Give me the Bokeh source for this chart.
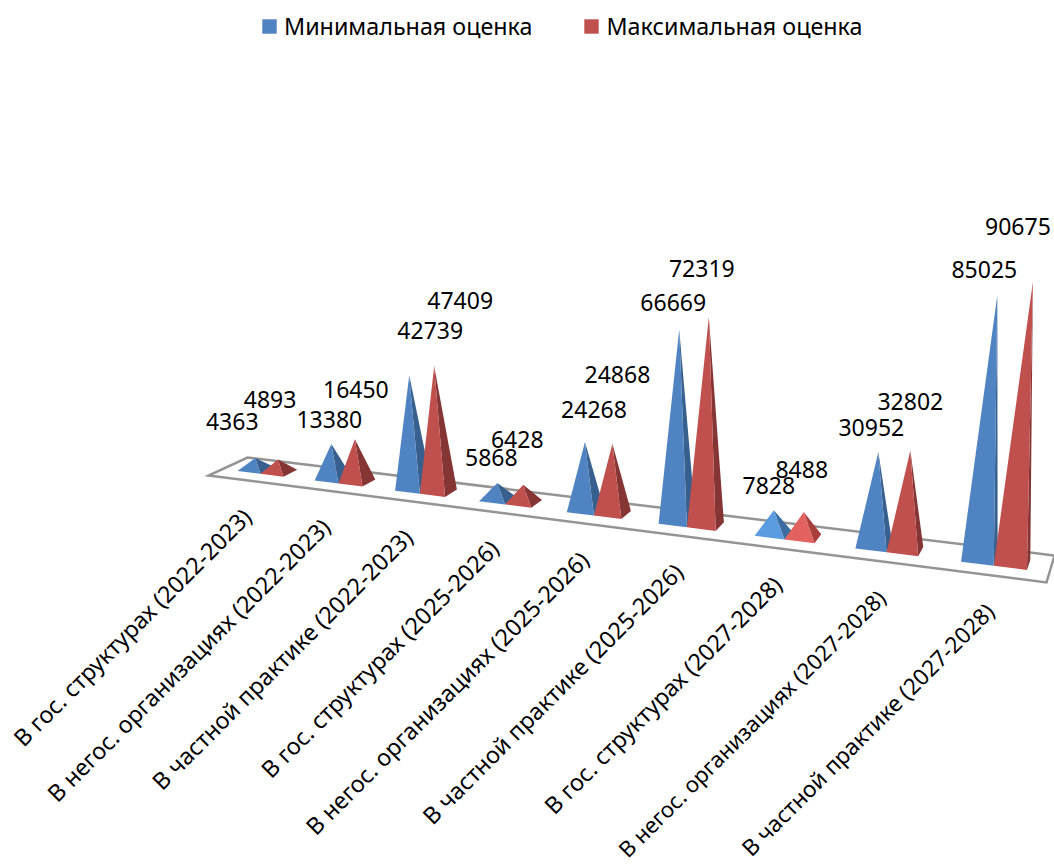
import numpy as np
from bokeh.plotting import figure
from bokeh.models import ColumnDataSource, Legend, LegendItem
from bokeh.core.properties import value
from bokeh.embed import file_html
from bokeh.resources import INLINE

categories = [
    "В гос. структурах (2022-2023)", "В негос. организациях (2022-2023)", "В частной практике (2022-2023)",
    "В гос. структурах (2025-2026)", "В негос. организациях (2025-2026)", "В частной практике (2025-2026)",
    "В гос. структурах (2027-2028)", "В негос. организациях (2027-2028)", "В частной практике (2027-2028)",
]
min_values = [4363, 13380, 42739, 5868, 24268, 66669, 7828, 30952, 85025]
max_values = [4893, 16450, 47409, 6428, 24868, 72319, 8488, 32802, 90675]
series_names = ["Минимальная оценка", "Максимальная оценка"]

# manual data-label offsets from each pyramid's apex (layout, px)
min_label_dx = [-23, -2, 21, -6, 9, -6, -5, -7, -13]
min_label_dy = [-37, -25, -45, -25, -32, -27, -25, -25, -26]
max_label_dx = [-8, 1, 26, -6, 5, -7, -2, 0, -15]
max_label_dy = [-60, -50, -65, -45, -69, -48, -42, -49, -55]
category_sizes = ["23.3px"] * 7 + ["22px", "22.6px"]

FONT = "Noto Sans"
LABEL_SIZE = "23px"
FLOOR = [(208, 475), (1046, 582), (1054, 555), (247, 457)]
N = len(categories)


def homography(corners, n):
    src = [(0, 0), (n, 0), (n, 1), (0, 1)]
    A, b = [], []
    for (u, w), (x, y) in zip(src, corners):
        A.append([u, w, 1, 0, 0, 0, -u * x, -w * x]); b.append(x)
        A.append([0, 0, 0, u, w, 1, -u * y, -w * y]); b.append(y)
    return np.append(np.linalg.solve(np.array(A, float), np.array(b, float)), 1).reshape(3, 3)


H = homography(FLOOR, N)


def floor(u, w):
    q = H @ np.array([u, w, 1.0])
    return q[0] / q[2], q[1] / q[2]


W0, W1 = 0.35, 0.72
VANISH_X = 620
LEAN = 1.89e-4


def pyramid(c, u0, u1, v):
    fl, fr = floor(c + u0, W0), floor(c + u1, W0)
    br = floor(c + u1, W1)
    cx, cy = floor(c + (u0 + u1) / 2, (W0 + W1) / 2)
    h = v * (2.5e-3 + 0.075e-3 * c)
    ax, ay = cx + (cx - VANISH_X) * h * LEAN, cy - h
    return fl, fr, br, (ax, ay)


def faces(vals, u0, u1, front_cols, side_cols):
    d = dict(fx=[], fy=[], sx=[], sy=[], ax=[], ay=[], fc=front_cols, sc=side_cols)
    for c, v in enumerate(vals):
        fl, fr, br, a = pyramid(c, u0, u1, v)
        d["fx"].append([fl[0], fr[0], a[0]]); d["fy"].append([fl[1], fr[1], a[1]])
        d["sx"].append([fr[0], br[0], a[0]]); d["sy"].append([fr[1], br[1], a[1]])
        d["ax"].append(a[0]); d["ay"].append(a[1])
    return d


BLUE, BLUE_D, RED, RED_D = "#5083C1", "#37608F", "#C0504D", "#863535"
BLUE_L, BLUE_LD, RED_L, RED_LD = "#5B9BE0", "#3C6DA0", "#E2625F", "#A83F3D"
blue_f = [BLUE_L if i == 6 else BLUE for i in range(N)]
blue_s = [BLUE_LD if i == 6 else BLUE_D for i in range(N)]
red_f = [RED_L if i == 6 else RED for i in range(N)]
red_s = [RED_LD if i == 6 else RED_D for i in range(N)]

p = figure(width=1054, height=868, x_range=(0, 1054), y_range=(868, 0),
           output_backend="svg", toolbar_location=None, min_border=0,
           outline_line_color=None, background_fill_color="white")
p.axis.visible = False
p.grid.visible = False

p.patch([q[0] for q in FLOOR], [q[1] for q in FLOOR], fill_color="white",
        line_color="#949494", line_width=2.5, line_join="miter")

blue_src = ColumnDataSource(faces(min_values, 0.2, 0.5, blue_f, blue_s))
red_src = ColumnDataSource(faces(max_values, 0.5, 0.8, red_f, red_s))

p.patches("sx", "sy", source=blue_src, fill_color="sc", line_color=None)
r_blue = p.patches("fx", "fy", source=blue_src, fill_color="fc", line_color=None)
p.patches("sx", "sy", source=red_src, fill_color="sc", line_color=None)
r_red = p.patches("fx", "fy", source=red_src, fill_color="fc", line_color=None)

for src, vals, dx, dy in [(blue_src, min_values, min_label_dx, min_label_dy),
                          (red_src, max_values, max_label_dx, max_label_dy)]:
    ls = ColumnDataSource(dict(x=src.data["ax"], y=src.data["ay"], t=[str(v) for v in vals], dx=dx, dy=dy))
    p.text("x", "y", text="t", source=ls, x_offset="dx", y_offset="dy", text_align="center",
           text_baseline="middle", text_font=value(FONT), text_font_size=LABEL_SIZE, text_color="#000000")

anchors = [floor(c + 0.5, 0) for c in range(N)]
cat_src = ColumnDataSource(dict(x=[a[0] for a in anchors], y=[a[1] + 32 for a in anchors], t=categories,
                                s=category_sizes))
p.text("x", "y", text="t", source=cat_src, angle=np.pi / 4, text_align="right", text_baseline="middle",
       text_font=value(FONT), text_font_size="s", text_color="#000000")

legend = Legend(items=[LegendItem(label=series_names[0], renderers=[r_blue], index=0),
                       LegendItem(label=series_names[1], renderers=[r_red], index=2)],
                orientation="horizontal", location=(260, 826), background_fill_alpha=0, border_line_color=None,
                margin=0, padding=0, spacing=50, glyph_width=18, glyph_height=18, label_standoff=6,
                label_text_font=FONT, label_text_font_size="23.3px", label_text_color="#000000")
p.add_layout(legend, "center")

open("out.html", "w").write(file_html(p, INLINE))
